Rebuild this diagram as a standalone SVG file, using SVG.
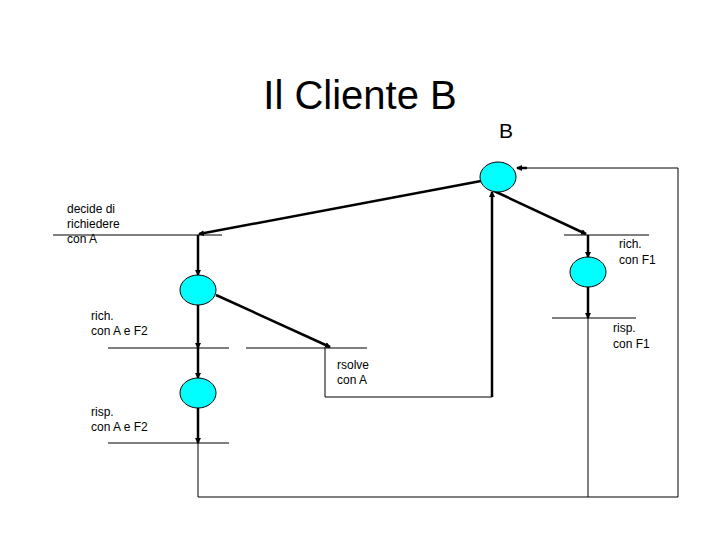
<svg xmlns="http://www.w3.org/2000/svg" width="720" height="540" viewBox="0 0 720 540">
<style>
.n{fill:#00ffff;stroke:#000;stroke-width:1}
.t{font-family:"Liberation Sans",Arial,sans-serif;font-size:12px;fill:#000}
.l{stroke:#000;stroke-width:1;fill:none}
.a{stroke:#000;stroke-width:2.5;fill:none;marker-end:url(#ah)}
</style>
<defs><marker id="ah" markerWidth="6" markerHeight="6" refX="5" refY="3" orient="auto" markerUnits="userSpaceOnUse" viewBox="0 0 6 6"><path d="M0,0L6,3L0,6z" fill="#000"/></marker></defs>
<rect width="720" height="540" fill="#fff"/>
<text x="360" y="109" text-anchor="middle" font-family="Liberation Sans,Arial,sans-serif" font-size="40">Il Cliente B</text>
<text x="506" y="138" text-anchor="middle" font-family="Liberation Sans,Arial,sans-serif" font-size="21">B</text>
<g id="connectors">
<line class="l" x1="53" y1="235" x2="222" y2="235"/>
<line class="l" x1="564" y1="235" x2="649" y2="235"/>
<line class="l" x1="552" y1="318" x2="636" y2="318"/>
<line class="l" x1="108" y1="348" x2="229" y2="348"/>
<line class="l" x1="246" y1="348" x2="367" y2="348"/>
<line class="l" x1="108" y1="443" x2="229" y2="443"/>
<polyline class="l" points="325,348 325,397 492,397"/>
<line class="a" x1="492" y1="397" x2="492" y2="192"/>
<polyline class="l" points="198,443 198,497 678,497 678,168 527,168"/>
<line class="a" x1="527" y1="168" x2="517" y2="168"/>
<line class="l" x1="588" y1="318" x2="588" y2="497"/>
<line class="a" x1="481" y1="181" x2="199" y2="234"/>
<line class="a" x1="494" y1="191" x2="586" y2="234"/>
<line class="a" x1="198" y1="235" x2="198" y2="275"/>
<line class="a" x1="216" y1="295" x2="330" y2="347"/>
<line class="a" x1="198" y1="305" x2="198" y2="348"/>
<line class="a" x1="198" y1="348" x2="198" y2="378"/>
<line class="a" x1="198" y1="408" x2="198" y2="443"/>
<line class="a" x1="588" y1="235" x2="588" y2="257"/>
<line class="a" x1="588" y1="287" x2="588" y2="318"/>
</g>
<g id="nodeB"><ellipse class="n" cx="498" cy="177" rx="18" ry="15"/></g>
<g id="nodeA1"><ellipse class="n" cx="198" cy="290" rx="18" ry="15"/></g>
<g id="nodeA2"><ellipse class="n" cx="198" cy="393" rx="18" ry="15"/></g>
<g id="nodeF1"><ellipse class="n" cx="588" cy="272" rx="18" ry="15"/></g>
<g id="labels">
<text class="t" x="67" y="213">decide di</text>
<text class="t" x="67" y="228">richiedere</text>
<text class="t" x="67" y="243">con A</text>
<text class="t" x="619" y="248">rich.</text>
<text class="t" x="619" y="264">con F1</text>
<text class="t" x="91" y="320">rich.</text>
<text class="t" x="91" y="335">con A e F2</text>
<text class="t" x="613" y="332">risp.</text>
<text class="t" x="613" y="348">con F1</text>
<text class="t" x="337" y="369">rsolve</text>
<text class="t" x="337" y="384">con A</text>
<text class="t" x="91" y="416">risp.</text>
<text class="t" x="91" y="431">con A e F2</text>
</g>
</svg>
